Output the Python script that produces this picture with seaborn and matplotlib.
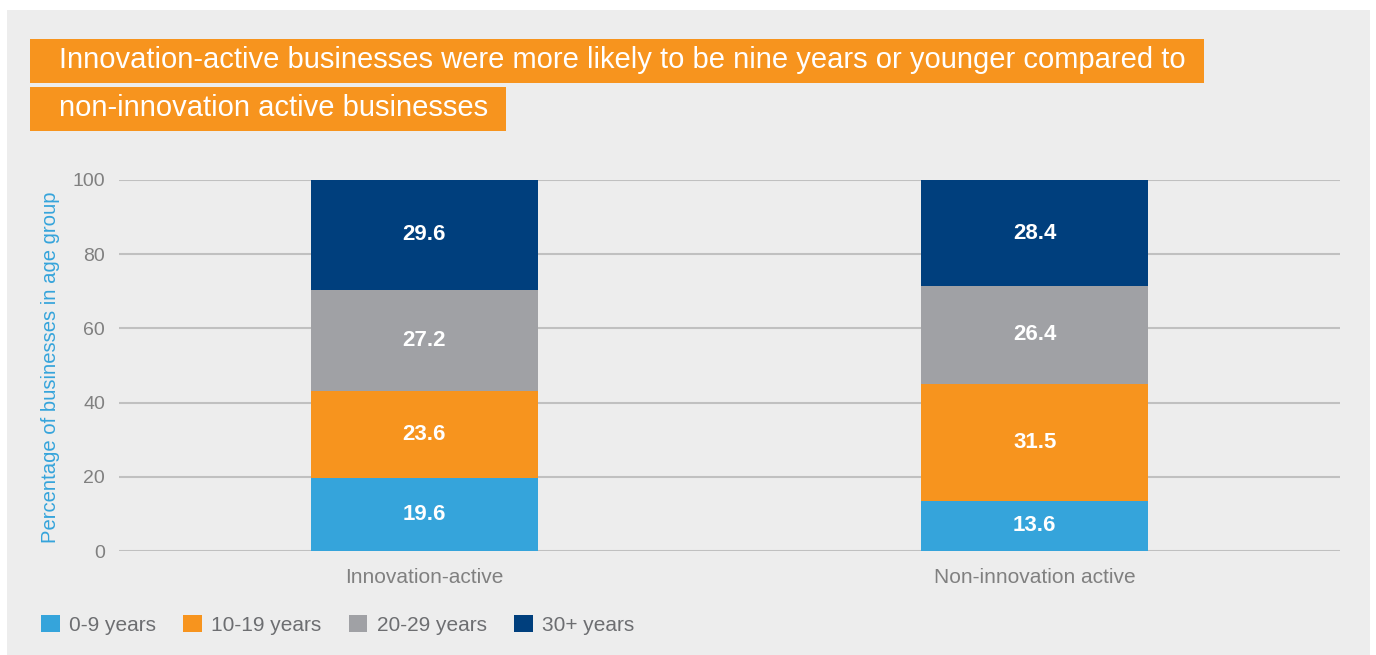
import matplotlib
matplotlib.use("Agg")
import matplotlib.pyplot as plt
from matplotlib.patches import Rectangle
import numpy as np
import seaborn as sns

# ---- data ----
categories = ["Innovation-active", "Non-innovation active"]
age_groups = ["0-9 years", "10-19 years", "20-29 years", "30+ years"]
age_0_9 = [19.6, 13.6]
age_10_19 = [23.6, 31.5]
age_20_29 = [27.2, 26.4]
age_30_plus = [29.6, 28.4]
y_ticks = [0, 20, 40, 60, 80, 100]
title_lines = [
    "Innovation-active businesses were more likely to be nine years or younger compared to",
    "non-innovation active businesses",
]
y_label = "Percentage of businesses in age group"

colors = ["#35A4DB", "#F7941E", "#A0A1A5", "#003F7D"]
ORANGE = "#F7941E"
PANEL = "#EDEDED"
GRID = "#C0C0C0"
TICK_GREY = "#808080"
LEGEND_GREY = "#6D6E71"

sns.set_theme(style="white")
plt.rcParams["font.family"] = ["Liberation Sans", "DejaVu Sans"]

W, H = 1376, 655
fig = plt.figure(figsize=(W / 100, H / 100), dpi=100, facecolor="white")

# grey panel behind everything
fig.patches.append(Rectangle((7 / W, 0), (1370 - 7) / W, 1 - 10 / H,
                             transform=fig.transFigure, facecolor=PANEL,
                             edgecolor="none", zorder=-10))

ax = fig.add_axes([119 / W, 1 - 551 / H, (1340 - 119) / W, (551 - 180) / H])
ax.set_facecolor("none")

series = [age_0_9, age_10_19, age_20_29, age_30_plus]
values = np.array(series)
cum = np.cumsum(values, axis=0)
bar_w = 0.372

# stacked bars: draw cumulative totals from the top layer down
for k in range(len(series) - 1, -1, -1):
    sns.barplot(x=categories, y=cum[k], color=colors[k], saturation=1,
                width=bar_w, errorbar=None, ax=ax, zorder=3, linewidth=0)

# segment value labels
for k in range(len(series)):
    for i in range(len(categories)):
        bottom = cum[k][i] - values[k][i]
        ax.text(i, bottom + values[k][i] / 2, f"{values[k][i]:.1f}",
                ha="center", va="center", color="white", fontsize=16,
                fontweight="bold", zorder=5)

ax.set_xlim(-0.5, 1.5)
ax.set_ylim(0, 100)
ax.set_yticks(y_ticks)
for y in y_ticks:
    ax.axhline(y, color=GRID, lw=1.5, zorder=1)
for s in ax.spines.values():
    s.set_visible(False)
ax.tick_params(axis="y", length=0, pad=10, labelsize=14, labelcolor=TICK_GREY)
ax.tick_params(axis="x", length=0, pad=12, labelsize=15, labelcolor=TICK_GREY)
ax.set_xlabel("")
ax.set_ylabel("")

fig.text(51 / W, 1 - 367 / H, y_label, rotation=90, ha="center", va="center",
         color="#35A4DB", fontsize=14.6)

# legend
handles = [Rectangle((0, 0), 1, 1, facecolor=c, edgecolor="none") for c in colors]
leg = fig.legend(handles, age_groups, loc="center left",
                 bbox_to_anchor=(41 / W, 1 - 625 / H), ncol=4, frameon=False,
                 fontsize=15, handlelength=0.9, handleheight=0.9,
                 handletextpad=0.45, columnspacing=1.3, borderpad=0,
                 borderaxespad=0)
for t in leg.get_texts():
    t.set_color(LEGEND_GREY)

# title lines on orange boxes
baselines = [68, 116]
boxes = [(39, 83), (87, 131)]
texts = []
for line, base in zip(title_lines, baselines):
    t = fig.text(59 / W, 1 - base / H, line, ha="left", va="baseline",
                 color="white", fontsize=21, zorder=5)
    texts.append(t)
fig.canvas.draw()
r = fig.canvas.get_renderer()
for t, (top, bot) in zip(texts, boxes):
    bb = t.get_window_extent(r)
    x0 = bb.x0 - 29
    x1 = bb.x1 + 18
    fig.patches.append(Rectangle((x0 / W, 1 - bot / H), (x1 - x0) / W, (bot - top) / H,
                                 transform=fig.transFigure, facecolor=ORANGE,
                                 edgecolor="none", zorder=1))

fig.savefig("out.png", dpi=100, facecolor="white")
